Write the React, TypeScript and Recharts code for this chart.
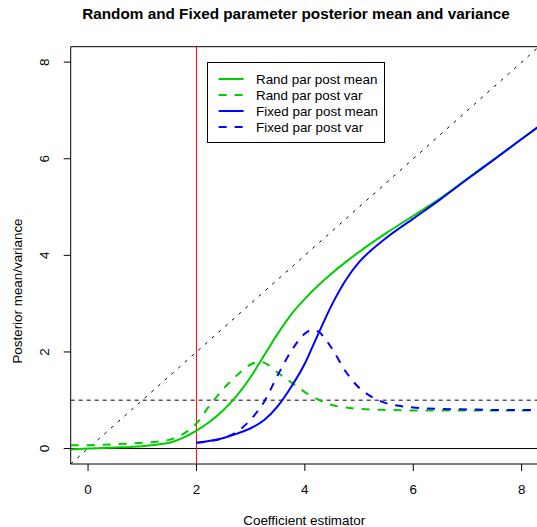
import { LineChart, Line, XAxis, YAxis, ReferenceLine, ReferenceArea, Legend } from "recharts";

const FONT = '"Liberation Sans", Arial, Helvetica, sans-serif';

const X_TICKS = [0, 2, 4, 6, 8];
const Y_TICKS = [0, 2, 4, 6, 8];
const LIMITS: [number, number] = [-0.32, 8.32];
const CUTOFF = 2;

// random parameter: posterior mean / variance vs. estimator
const randX = [-0.32, 0, 0.5, 1, 1.25, 1.5, 1.75, 2, 2.25, 2.5, 2.75, 3, 3.15, 3.25, 3.5, 3.75, 4, 4.25, 4.5, 4.75, 5, 5.5, 6, 6.5, 7, 7.5, 8, 8.32];
const randMean = [-0.02, 0, 0.02, 0.05, 0.08, 0.12, 0.22, 0.37, 0.56, 0.8, 1.1, 1.48, 1.75, 1.93, 2.38, 2.78, 3.1, 3.38, 3.63, 3.86, 4.07, 4.46, 4.82, 5.18, 5.59, 6.0, 6.41, 6.67];
const randVar = [0.07, 0.07, 0.09, 0.12, 0.14, 0.18, 0.3, 0.52, 0.9, 1.24, 1.52, 1.74, 1.8, 1.78, 1.57, 1.37, 1.17, 1.01, 0.9, 0.85, 0.82, 0.8, 0.79, 0.79, 0.79, 0.79, 0.79, 0.79];

// fixed parameter: only defined above the cutoff
const fixedX = [2, 2.25, 2.5, 2.75, 3, 3.25, 3.5, 3.75, 4, 4.15, 4.25, 4.5, 4.75, 5, 5.25, 5.5, 6, 6.5, 7, 7.5, 8, 8.32];
const fixedMean = [0.12, 0.16, 0.22, 0.31, 0.42, 0.59, 0.88, 1.28, 1.76, 2.13, 2.38, 2.98, 3.48, 3.86, 4.13, 4.36, 4.76, 5.16, 5.58, 5.99, 6.41, 6.67];
const fixedVar = [0.12, 0.15, 0.22, 0.35, 0.6, 0.97, 1.52, 2.02, 2.38, 2.46, 2.42, 2.07, 1.6, 1.26, 1.06, 0.94, 0.85, 0.82, 0.81, 0.8, 0.8, 0.8];

const GREEN = "#00cd00";
const BLUE = "#0000ff";

const legendItems = [
  { label: "Rand par post mean", color: GREEN, dash: undefined },
  { label: "Rand par post var", color: GREEN, dash: "8 8" },
  { label: "Fixed par post mean", color: BLUE, dash: undefined },
  { label: "Fixed par post var", color: BLUE, dash: "8 8" },
];

const zip = (xs: number[], ys: number[]) => xs.map((x, i) => ({ x, y: ys[i] }));

function YTick({ x, y, payload }: any) {
  return (
    <text
      x={x}
      y={y}
      transform={`rotate(-90 ${x} ${y})`}
      textAnchor="middle"
      fontSize={13.4}
      fontFamily={FONT}
      fill="#000"
    >
      {payload.value}
    </text>
  );
}

function LegendBox() {
  return (
    <svg width={178} height={81} style={{ display: "block" }}>
      <rect x={0.5} y={0.5} width={177} height={80} fill="#fff" stroke="#000" />
      {legendItems.map((it, i) => {
        const cy = 17 + i * 16;
        return (
          <g key={it.label}>
            <line x1={11.6} x2={36.6} y1={cy} y2={cy} stroke={it.color} strokeWidth={2} strokeDasharray={it.dash} />
            <text x={49} y={cy + 4.7} fontSize={13.4} fontFamily={FONT} fill="#000">
              {it.label}
            </text>
          </g>
        );
      })}
    </svg>
  );
}

export default function App() {
  return (
    <div style={{ position: "absolute", left: 0, top: 0, width: 537, height: 527, overflow: "hidden", background: "#fff", fontFamily: FONT }}>
      <LineChart width={539} height={527} margin={{ top: 46.7, right: 0, bottom: 23, left: 10.7 }}>
        <XAxis
          type="number"
          dataKey="x"
          domain={LIMITS}
          ticks={X_TICKS}
          allowDataOverflow
          axisLine={false}
          tickSize={7}
          tickMargin={13}
          height={40}
          tickLine={{ stroke: "#000" }}
          tick={{ fontSize: 13.4, fill: "#000", fontFamily: FONT }}
        />
        <YAxis
          type="number"
          dataKey="y"
          domain={LIMITS}
          ticks={Y_TICKS}
          allowDataOverflow
          axisLine={false}
          tickSize={7}
          tickMargin={14.7}
          width={60}
          tickLine={{ stroke: "#000" }}
          tick={<YTick />}
        />
        <ReferenceArea x1={LIMITS[0]} x2={LIMITS[1]} y1={LIMITS[0]} y2={LIMITS[1]} fill="none" stroke="#000" fillOpacity={0} ifOverflow="visible" />
        <ReferenceLine y={0} stroke="#000" strokeWidth={1} />
        <ReferenceLine y={1} stroke="#555" strokeWidth={1.4} strokeDasharray="4 4" />
        <ReferenceLine
          segment={[{ x: LIMITS[0], y: LIMITS[0] }, { x: LIMITS[1], y: LIMITS[1] }]}
          stroke="#000"
          strokeDasharray="3 6"
        />
        <ReferenceLine x={CUTOFF} stroke="#ff0000" strokeWidth={1} />
        <Line data={zip(randX, randMean)} dataKey="y" type="monotone" stroke={GREEN} strokeWidth={2} dot={false} isAnimationActive={false} />
        <Line data={zip(randX, randVar)} dataKey="y" type="monotone" stroke={GREEN} strokeWidth={2} strokeDasharray="8 8" dot={false} isAnimationActive={false} />
        <Line data={zip(fixedX, fixedMean)} dataKey="y" type="monotone" stroke={BLUE} strokeWidth={2} dot={false} isAnimationActive={false} />
        <Line data={zip(fixedX, fixedVar)} dataKey="y" type="monotone" stroke={BLUE} strokeWidth={2} strokeDasharray="8 8" dot={false} isAnimationActive={false} />
        <Legend
          layout="vertical"
          align="center"
          verticalAlign="middle"
          content={() => <LegendBox />}
          wrapperStyle={{ left: 206.7, top: 62.3, width: 178, height: 81 }}
        />
      </LineChart>
      <div style={{ position: "absolute", left: 0, width: 592, top: 5, textAlign: "center", fontWeight: "bold", fontSize: 15.3, lineHeight: "18px", color: "#000" }}>
        Random and Fixed parameter posterior mean and variance
      </div>
      <div style={{ position: "absolute", left: 70.7, width: 467, top: 512, textAlign: "center", fontSize: 13.4, lineHeight: "18px", color: "#000" }}>
        Coefficient estimator
      </div>
      <div
        style={{
          position: "absolute",
          left: 18 - 150,
          top: 291 - 9,
          width: 300,
          textAlign: "center",
          fontSize: 13.4,
          lineHeight: "18px",
          color: "#000",
          transform: "rotate(-90deg)",
        }}
      >
        Posterior mean/variance
      </div>
    </div>
  );
}
